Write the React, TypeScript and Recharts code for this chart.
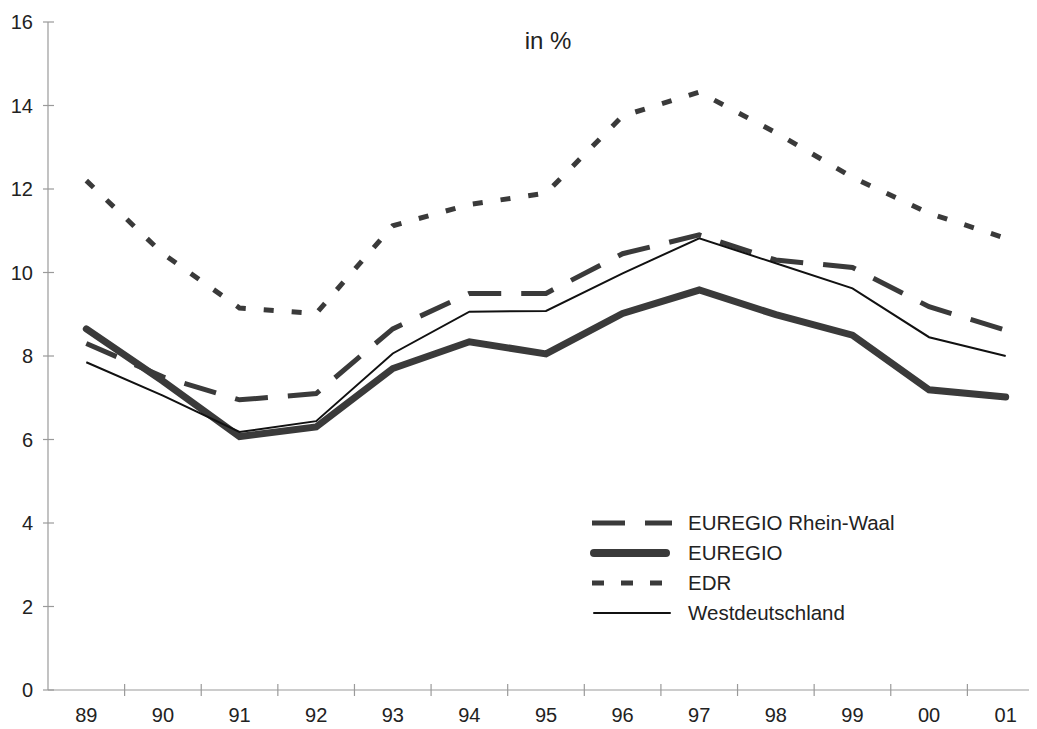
import React from 'react'
import { LineChart, Line, XAxis, YAxis } from 'recharts'

const years = ['89', '90', '91', '92', '93', '94', '95', '96', '97', '98', '99', '00', '01']
const rheinWaal = [8.3, 7.5, 6.95, 7.1, 8.65, 9.5, 9.5, 10.45, 10.9, 10.3, 10.12, 9.18, 8.62]
const euregio = [8.65, 7.4, 6.07, 6.3, 7.7, 8.34, 8.05, 9.02, 9.58, 8.99, 8.5, 7.19, 7.02]
const edr = [12.2, 10.45, 9.15, 9.02, 11.12, 11.63, 11.9, 13.75, 14.32, 13.35, 12.28, 11.42, 10.82]
const westdeutschland = [7.85, 7.05, 6.18, 6.44, 8.06, 9.06, 9.08, 9.98, 10.82, 10.22, 9.62, 8.45, 8.0]
const yTicks = [0, 2, 4, 6, 8, 10, 12, 14, 16]

const data = years.map((year, i) => ({
  year,
  rheinWaal: rheinWaal[i],
  euregio: euregio[i],
  edr: edr[i],
  west: westdeutschland[i],
}))

const CHART_W = 1050
const CHART_H = 729
const MARGIN = { top: 22, right: 6, left: 0, bottom: 0 }
const Y_AXIS_W = 48
const X_AXIS_H = 39
const PLOT_W = CHART_W - MARGIN.left - MARGIN.right - Y_AXIS_W
const STEP = PLOT_W / years.length
const AXIS_X = MARGIN.left + Y_AXIS_W
const AXIS_Y = CHART_H - MARGIN.bottom - X_AXIS_H

const axisColor = '#9a9a9a'
const font = '"Liberation Sans", Arial, sans-serif'

const YTick = (props: any) => {
  const { y, payload } = props
  return (
    <g>
      <line x1={AXIS_X - 5} x2={AXIS_X + 6} y1={y} y2={y} stroke={axisColor} strokeWidth={1.2} />
      <text x={AXIS_X - 15} y={y} dy="0.36em" textAnchor="end" fontSize={20} fill="#222" fontFamily={font}>
        {payload.value}
      </text>
    </g>
  )
}

const XTick = (props: any) => {
  const { x, payload, index } = props
  const tx = x - STEP / 2
  return (
    <g>
      {index > 0 && (
        <line x1={tx} x2={tx} y1={AXIS_Y - 6} y2={AXIS_Y + 6} stroke={axisColor} strokeWidth={1.2} />
      )}
      <text x={x} y={AXIS_Y + 25} dy="0.36em" textAnchor="middle" fontSize={20} fill="#222" fontFamily={font}>
        {payload.value}
      </text>
    </g>
  )
}

const legendItems = [
  { name: 'EUREGIO Rhein-Waal', color: '#3a3a3a', width: 5, dash: '33 20', len: 80 },
  { name: 'EUREGIO', color: '#3a3a3a', width: 8, dash: undefined, len: 76 },
  { name: 'EDR', color: '#3a3a3a', width: 5, dash: '12 17', len: 70 },
  { name: 'Westdeutschland', color: '#111', width: 2, dash: undefined, len: 80 },
]

const LegendBox = ({ x, y }: { x: number; y: number }) => (
  <g transform={`translate(${x},${y})`}>
    {legendItems.map((item, i) => {
      const cy = i * 30
      const pad = item.dash ? 0 : 2
      return (
        <g key={item.name}>
          <line
            x1={pad}
            x2={item.len - pad}
            y1={cy}
            y2={cy}
            stroke={item.color}
            strokeWidth={item.width}
            strokeDasharray={item.dash}
            strokeLinecap={item.dash ? 'butt' : 'round'}
          />
          <text x={96} y={cy} dy="0.36em" fontSize={20.5} fill="#222" fontFamily={font}>
            {item.name}
          </text>
        </g>
      )
    })}
  </g>
)

export default function App() {
  return (
    <div style={{ margin: '-8px 0 0 -8px', width: 1037, height: CHART_H, overflow: 'hidden', background: '#fff' }}>
      <LineChart width={CHART_W} height={CHART_H} data={data} margin={MARGIN}>
        <XAxis
          dataKey="year"
          height={X_AXIS_H}
          stroke={axisColor}
          strokeWidth={1.2}
          tickLine={false}
          tick={<XTick />}
          interval={0}
          padding={{ left: STEP / 2, right: STEP / 2 }}
        />
        <YAxis
          domain={[0, 16]}
          ticks={yTicks}
          width={Y_AXIS_W}
          stroke={axisColor}
          strokeWidth={1.2}
          tickLine={false}
          tick={<YTick />}
          interval={0}
        />
        <text x={548} y={40} dy="0.36em" textAnchor="middle" fontSize={24} fill="#222" fontFamily={font}>
          in %
        </text>
        <Line
          dataKey="rheinWaal"
          name="EUREGIO Rhein-Waal"
          type="linear"
          stroke="#3a3a3a"
          strokeWidth={5}
          strokeDasharray="33 20"
          dot={false}
          isAnimationActive={false}
        />
        <Line
          dataKey="edr"
          name="EDR"
          type="linear"
          stroke="#3a3a3a"
          strokeWidth={5}
          strokeDasharray="10 18"
          dot={false}
          isAnimationActive={false}
        />
        <Line
          dataKey="euregio"
          name="EUREGIO"
          type="linear"
          stroke="#3a3a3a"
          strokeWidth={7}
          strokeLinecap="round"
          dot={false}
          isAnimationActive={false}
        />
        <Line
          dataKey="west"
          name="Westdeutschland"
          type="linear"
          stroke="#111"
          strokeWidth={2}
          dot={false}
          isAnimationActive={false}
        />
        <LegendBox x={592} y={523} />
      </LineChart>
    </div>
  )
}
